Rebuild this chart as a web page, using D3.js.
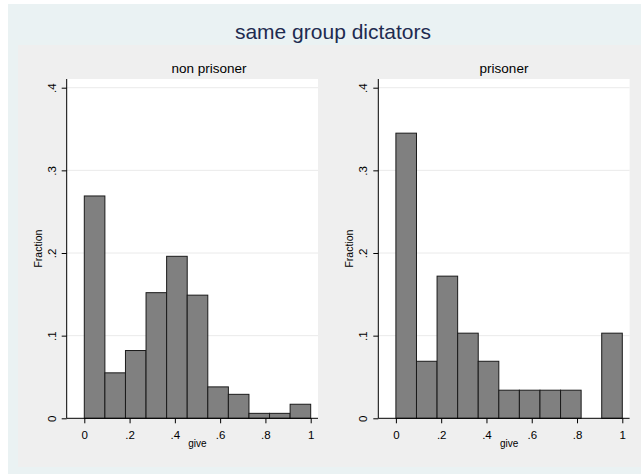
<!DOCTYPE html>
<html>
<head>
<meta charset="utf-8">
<script src="https://cdn.jsdelivr.net/npm/d3@7"></script>
<style>
body { margin:0; background:#fff; }
text { font-family: "Liberation Sans", Arial, sans-serif; }
</style>
</head>
<body>
<svg id="chart"></svg>
<script>
// histogram of give, 11 bins on [0,1]
var binStarts = [0, 1/11, 2/11, 3/11, 4/11, 5/11, 6/11, 7/11, 8/11, 9/11, 10/11];
var nonPrisoner = [0.269, 0.055, 0.082, 0.152, 0.196, 0.149, 0.038, 0.029, 0.006, 0.006, 0.017];
var prisoner = [0.345, 0.069, 0.172, 0.103, 0.069, 0.034, 0.034, 0.034, 0.034, 0, 0.103];
var xTicks = [0, 0.2, 0.4, 0.6, 0.8, 1];
var yTicks = [0, 0.1, 0.2, 0.3, 0.4];
var binWidth = 1/11;

var screen = {width:641, height:474};

var fmt = function(v)
{
    // stata style: drop the leading zero
    return v == 0 ? "0" : (v == 1 ? "1" : String(v).replace(/^0/, ""));
}

var svg = d3.select("#chart")
    .attr("width", screen.width)
    .attr("height", screen.height);

// outer background
svg.append("rect")
    .attr("x", 8).attr("y", 4)
    .attr("width", screen.width - 8).attr("height", screen.height - 4)
    .attr("fill", "#eaf2f3");

// inner graph region
svg.append("rect")
    .attr("x", 18).attr("y", 45)
    .attr("width", screen.width - 18).attr("height", 422)
    .attr("fill", "#efefef");

svg.append("text")
    .attr("x", 333).attr("y", 39)
    .attr("text-anchor", "middle")
    .attr("font-size", 21)
    .attr("fill", "#1e2b50")
    .text("same group dictators");

var drawPanel = function(values, title, left, titleX)
{
    var xScale = d3.scaleLinear().domain([0, 1]).range([left + 17.6, left + 244]);
    var yScale = d3.scaleLinear().domain([0, 0.4]).range([418.3, 87.7]);

    var g = svg.append("g");

    // plot region
    g.append("rect")
        .attr("x", left).attr("y", 79)
        .attr("width", xScale(1) + 7.3 - left)
        .attr("height", yScale(0) - 79)
        .attr("fill", "#fff");

    // grid lines
    g.selectAll(".grid")
        .data(yTicks.slice(1))
        .enter()
        .append("line")
        .attr("x1", left).attr("x2", xScale(1) + 7.3)
        .attr("y1", function(d) { return yScale(d); })
        .attr("y2", function(d) { return yScale(d); })
        .attr("stroke", "#eaeaea")
        .attr("stroke-width", 1);

    g.selectAll(".bar")
        .data(values)
        .enter()
        .append("rect")
        .attr("display", function(d) { return d > 0 ? null : "none"; })
        .attr("x", function(d, i) { return xScale(binStarts[i]); })
        .attr("y", function(d) { return yScale(d); })
        .attr("width", xScale(binWidth) - xScale(0))
        .attr("height", function(d) { return yScale(0) - yScale(d); })
        .attr("fill", "#808080")
        .attr("stroke", "#1a1a1a")
        .attr("stroke-width", 1);

    var xAxis = d3.axisBottom(xScale)
        .tickValues(xTicks)
        .tickFormat(fmt)
        .tickSize(5)
        .tickSizeOuter(0);
    var ax = g.append("g")
        .attr("transform", "translate(0," + yScale(0) + ")")
        .call(xAxis);
    ax.select(".domain").attr("d", "M" + left + ",0H" + (xScale(1) + 7.3));
    ax.selectAll("text").attr("font-size", 11.5).attr("font-family", null).attr("dy", "1.1em");

    var yAxis = d3.axisLeft(yScale)
        .tickValues(yTicks)
        .tickFormat(fmt)
        .tickSize(5)
        .tickSizeOuter(0);
    var ay = g.append("g")
        .attr("transform", "translate(" + left + ",0)")
        .call(yAxis);
    ay.select(".domain").attr("d", "M0,79V" + yScale(0));
    ay.selectAll("text")
        .attr("font-size", 11.5).attr("font-family", null)
        .attr("x", null).attr("dy", null)
        .attr("text-anchor", "middle")
        .attr("transform", "translate(-11,0) rotate(-90)");

    g.append("text")
        .attr("transform", "translate(" + (left - 25) + "," + ((79 + yScale(0)) / 2) + ") rotate(-90)")
        .attr("text-anchor", "middle")
        .attr("font-size", 10.5)
        .text("Fraction");

    g.append("text")
        .attr("x", xScale(0.5)).attr("y", 447)
        .attr("text-anchor", "middle")
        .attr("font-size", 10)
        .text("give");

    g.append("text")
        .attr("x", titleX).attr("y", 73)
        .attr("text-anchor", "middle")
        .attr("font-size", 13.5)
        .text(title);
}

drawPanel(nonPrisoner, "non prisoner", 66.7, 209);
drawPanel(prisoner, "prisoner", 378.3, 504);
</script>
</body>
</html>
